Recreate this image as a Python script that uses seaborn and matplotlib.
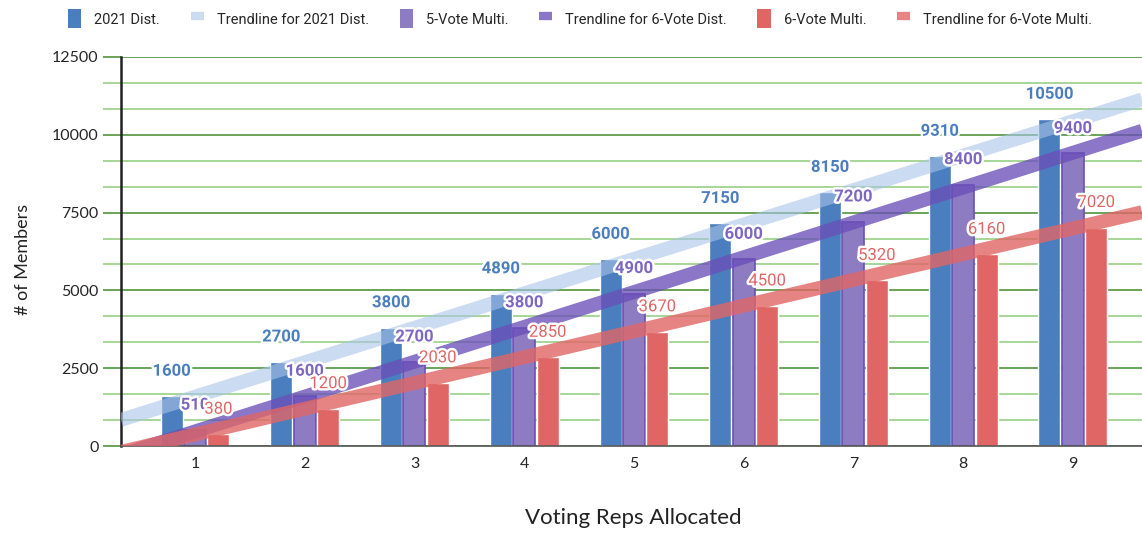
import numpy as np
import pandas as pd
import matplotlib
matplotlib.use("Agg")
import matplotlib.pyplot as plt
import matplotlib.patheffects as pe
from matplotlib.patches import Patch
from matplotlib.lines import Line2D
from matplotlib.ticker import MultipleLocator
import seaborn as sns

# ---- data ----
reps = ["1", "2", "3", "4", "5", "6", "7", "8", "9"]
dist_2021 = [1600, 2700, 3800, 4890, 6000, 7150, 8150, 9310, 10500]
multi_5 = [510, 1600, 2700, 3800, 4900, 6000, 7200, 8400, 9400]
multi_6 = [380, 1200, 2030, 2850, 3670, 4500, 5320, 6160, 7020]
series_names = ["2021 Dist.", "5-Vote Multi.", "6-Vote Multi."]
trend_names = ["Trendline for 2021 Dist.", "Trendline for 6-Vote Dist.", "Trendline for 6-Vote Multi."]
y_ticks = [0, 2500, 5000, 7500, 10000, 12500]

bar_colors = ["#4a7ebf", "#8e7cc3", "#e06666"]
label_colors = ["#4a7ebf", "#7d67c0", "#e06666"]
trend_colors = ["#a9c4e8", "#6a4fb8", "#e06666"]
trend_alpha = [0.6, 0.78, 0.8]

sns.set_theme(style="white")
plt.rcParams["font.family"] = ["Lato", "DejaVu Sans"]

fig = plt.figure(figsize=(11.42, 5.35), dpi=100)
ax = fig.add_axes([121 / 1142, 89 / 535, 1021 / 1142, 389 / 535])

values = [dist_2021, multi_5, multi_6]
df = pd.DataFrame({
    "reps": reps * 3,
    "members": dist_2021 + multi_5 + multi_6,
    "series": sum([[n] * len(reps) for n in series_names], []),
})

sns.barplot(data=df, x="reps", y="members", hue="series", order=reps,
            hue_order=series_names, palette=bar_colors, saturation=1,
            width=0.64, gap=0.06, legend=False, ax=ax, zorder=2)

for p in ax.containers[1]:
    p.set_edgecolor("#6a50b5")
    p.set_linewidth(1.2)

xlim = (-0.674, 8.63)
ax.set_xlim(*xlim)
ax.set_ylim(0, 12500)

xpos = np.arange(len(reps))
for vals, c, a, n in zip(values, trend_colors, trend_alpha, trend_names):
    sns.regplot(x=xpos, y=np.array(vals), scatter=False, ci=None, truncate=False,
                ax=ax, line_kws=dict(color=c, lw=10, alpha=a,
                                     solid_capstyle="butt", zorder=3))
ax.set_xlim(*xlim)
ax.set_ylim(0, 12500)

# value labels
stroke = [pe.withStroke(linewidth=3.5, foreground="white")]
weights = ["bold", "bold", "normal"]
for i in range(len(reps)):
    for s in range(3):
        bar = ax.containers[s][i]
        ax.annotate(str(values[s][i]),
                    (bar.get_x() + bar.get_width() / 2, bar.get_height()),
                    xytext=(0, 18), textcoords="offset points",
                    ha="center", va="center", fontsize=12,
                    fontweight=weights[s], color=label_colors[s],
                    family=["Roboto", "DejaVu Sans"],
                    path_effects=stroke, zorder=5)

# axes styling
ax.set_yticks(y_ticks)
ax.yaxis.set_minor_locator(MultipleLocator(2500 / 3))
ax.set_axisbelow(True)
ax.grid(which="major", axis="y", color="#5e9c4c", lw=1.3)
ax.grid(which="minor", axis="y", color="#a0d28f", lw=1.3)
ax.grid(axis="x", visible=False)
ax.tick_params(axis="y", which="major", length=13, width=1.3, color="#5e9c4c",
               labelsize=11.5, pad=3, left=True)
ax.tick_params(axis="y", which="minor", length=13, width=1.3, color="#a0d28f", left=True)
ax.tick_params(axis="x", length=0, labelsize=11.5, pad=8)
for sp in ["top", "right"]:
    ax.spines[sp].set_visible(False)
ax.spines["left"].set_color("#222222")
ax.spines["left"].set_linewidth(1.8)
ax.spines["bottom"].set_color("#555555")
ax.spines["bottom"].set_linewidth(1.2)

ax.set_xlabel("Voting Reps Allocated", fontsize=16, color="#222222")
ax.xaxis.set_label_coords(0.502, -0.16)
ax.set_ylabel("# of Members", fontsize=13, color="#222222")
ax.yaxis.set_label_coords(-0.088, 0.48)

# legend
handles = []
for s in range(3):
    handles.append(Patch(facecolor=bar_colors[s], edgecolor="none", label=series_names[s]))
    handles.append(Line2D([0], [0], color=trend_colors[s], alpha=trend_alpha[s], lw=6,
                          solid_capstyle="butt", label=trend_names[s]))
fig.legend(handles=handles, loc="center", bbox_to_anchor=(0.508, 0.965), ncol=6,
           frameon=False, handlelength=0.9, handleheight=1.6,
           handletextpad=0.9, columnspacing=2.1,
           prop={"family": ["Roboto", "DejaVu Sans"], "size": 10.5})

fig.savefig("out.png", dpi=100)
